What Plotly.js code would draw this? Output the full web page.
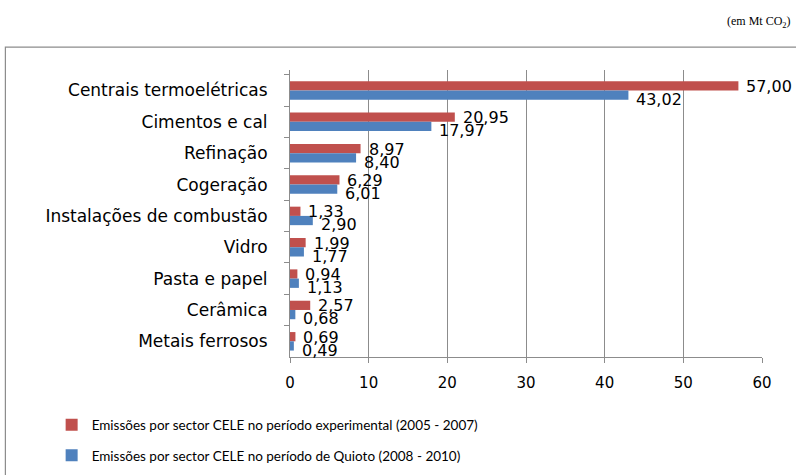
<!DOCTYPE html>
<html>
<head>
<meta charset="utf-8">
<script src="https://cdn.plot.ly/plotly-3.0.1.min.js"></script>
<style>
  body { margin: 0; background: #fff; }
  #chart { width: 796px; height: 475px; }
</style>
</head>
<body>
<div id="chart"></div>
<script>
// sectors, top to bottom
let sectors = [
    "Centrais termoelétricas",
    "Cimentos e cal",
    "Refinação",
    "Cogeração",
    "Instalações de combustão",
    "Vidro",
    "Pasta e papel",
    "Cerâmica",
    "Metais ferrosos"
];

// Mt CO2
let experimental = [57.00, 20.95, 8.97, 6.29, 1.33, 1.99, 0.94, 2.57, 0.69];
let quioto = [43.02, 17.97, 8.40, 6.01, 2.90, 1.77, 1.13, 0.68, 0.49];

let xTicks = [0, 10, 20, 30, 40, 50, 60];

let redColor = "#C0504D";
let blueColor = "#4F81BD";

// portuguese style decimals
let fmt = v => v.toFixed(2).replace(".", ",");

let labelFont = { family: "DejaVu Sans", size: 16, color: "#000" };

let trace1 = {
    type: "bar",
    orientation: "h",
    name: "Emissões por sector CELE no período experimental (2005 - 2007)",
    y: sectors,
    x: experimental,
    legendgroup: "a",
    marker: { color: redColor },
    hoverinfo: "x+y"
};

let trace2 = {
    type: "bar",
    orientation: "h",
    name: "Emissões por sector CELE no período de Quioto (2008 - 2010)",
    y: sectors,
    x: quioto,
    legendgroup: "b",
    marker: { color: blueColor },
    hoverinfo: "x+y"
};

// value labels next to the bar ends (red one a bit up, blue one below)
let labels = [];
sectors.forEach((s, i) => {
    labels.push({
        x: experimental[i], y: s, text: fmt(experimental[i]),
        xanchor: "left", yanchor: "middle", xshift: 6, yshift: 4,
        showarrow: false, font: labelFont
    });
    labels.push({
        x: quioto[i], y: s, text: fmt(quioto[i]),
        xanchor: "left", yanchor: "middle", xshift: 6, yshift: -9,
        showarrow: false, font: labelFont
    });
});

labels.push({
    text: "(em Mt CO<sub>2</sub>)",
    xref: "paper", yref: "paper",
    x: 1.065, y: 1.167,
    xanchor: "right", yanchor: "middle",
    showarrow: false,
    font: { family: "Liberation Serif", size: 12, color: "#000" }
});

let layout = {
    width: 796,
    height: 475,
    margin: { l: 290, r: 34, t: 70, b: 118, autoexpand: false },
    paper_bgcolor: "#fff",
    plot_bgcolor: "#fff",
    barmode: "group",
    bargap: 0.41,
    bargroupgap: 0,
    font: { family: "DejaVu Sans", size: 15, color: "#000" },
    xaxis: {
        range: [0, 60],
        tickvals: xTicks,
        ticktext: xTicks.map(String),
        showgrid: true,
        gridcolor: "#8c8c8c",
        gridwidth: 1,
        showline: true,
        linecolor: "#8c8c8c",
        ticks: "outside",
        ticklen: 5,
        tickcolor: "#8c8c8c",
        ticklabelstandoff: 7,
        zeroline: false,
        tickfont: { family: "DejaVu Sans", size: 15 }
    },
    yaxis: {
        type: "category",
        autorange: "reversed",
        showline: true,
        linecolor: "#8c8c8c",
        ticks: "outside",
        tickson: "boundaries",
        ticklen: 5,
        tickcolor: "#8c8c8c",
        ticklabelstandoff: 18,
        showgrid: false,
        tickfont: { family: "DejaVu Sans", size: 17 }
    },
    showlegend: true,
    legend: {
        x: -0.505,
        xanchor: "left",
        y: -0.183,
        yanchor: "top",
        tracegroupgap: 10,
        font: { family: "Lato", size: 13.5, color: "#000" },
        bgcolor: "rgba(0,0,0,0)"
    },
    annotations: labels,
    shapes: [{
        // outer frame, only left and top edges visible
        type: "path",
        xref: "paper", yref: "paper",
        path: "M -0.603,-0.5 L -0.603,1.08 L 1.2,1.08",
        line: { color: "#8c8c8c", width: 1.2 }
    }]
};

Plotly.newPlot("chart", [trace1, trace2], layout, { displayModeBar: false, staticPlot: true });
</script>
</body>
</html>
